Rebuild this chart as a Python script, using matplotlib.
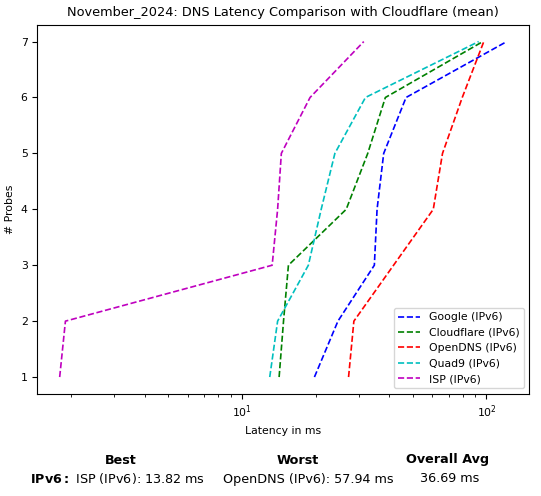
import matplotlib
matplotlib.use("Agg")
import matplotlib.pyplot as plt

# --- values (sorted latencies in ms) ---
probes = [1, 2, 3, 4, 5, 6, 7]
google_ms = [19.8, 24.7, 34.8, 35.7, 38.0, 46.9, 121.0]
cloudflare_ms = [14.2, 14.8, 15.5, 26.7, 32.7, 38.6, 96.6]
opendns_ms = [27.3, 28.7, 41.7, 60.6, 66.1, 79.6, 97.5]
quad9_ms = [13.0, 14.0, 18.7, 21.1, 24.0, 32.0, 92.9]
isp_ms = [1.80, 1.90, 13.3, 14.0, 14.5, 19.0, 31.5]

series_names = ['Google (IPv6)', 'Cloudflare (IPv6)', 'OpenDNS (IPv6)',
                'Quad9 (IPv6)', 'ISP (IPv6)']
series_values = [google_ms, cloudflare_ms, opendns_ms, quad9_ms, isp_ms]
series_colors = ['b', 'g', 'r', 'c', 'm']

summary_headers = ['Best', 'Worst', 'Overall Avg']
summary_row = ['ISP (IPv6): 13.82 ms', 'OpenDNS (IPv6): 57.94 ms', '36.69 ms']

plt.rcParams['font.size'] = 7.8

fig = plt.figure(figsize=(5.41, 4.96), dpi=100)
ax = fig.add_axes([0.069, 0.206, 0.909, 0.744])

for name, vals, col in zip(series_names, series_values, series_colors):
    ax.plot(vals, probes, linestyle='--', color=col, label=name, linewidth=1.2)

ax.set_xscale('log')
ax.set_xlabel('Latency in ms')
ax.set_ylabel('# Probes')
ax.set_title('November_2024: DNS Latency Comparison with Cloudflare (mean)', fontsize=9.3)
ax.legend(loc='lower right')

# summary under the plot
hx = [120.7 / 541, 297.7 / 541, 447.3 / 541]
vx = [118 / 541, 308.5 / 541, 450 / 541]
for x, h in zip(hx, summary_headers):
    fig.text(x, 1 - 460 / 496, h, ha='center', va='center', fontsize=9.2, fontweight='bold')
fig.text(vx[0], 1 - 479 / 496, r'$\bf{IPv6:}$ ' + summary_row[0], ha='center', va='center', fontsize=9.2)
fig.text(vx[1], 1 - 479 / 496, summary_row[1], ha='center', va='center', fontsize=9.2)
fig.text(vx[2], 1 - 479 / 496, summary_row[2], ha='center', va='center', fontsize=9.2)

fig.savefig('out.png', dpi=100)
